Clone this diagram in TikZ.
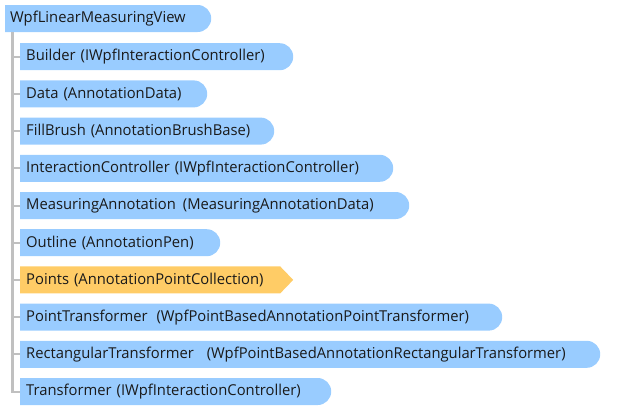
\documentclass[tikz,border=0pt]{standalone}
\usepackage{fontspec}
\setmainfont[FakeStretch=0.985]{Open Sans}
\definecolor{itemblue}{HTML}{99CCFF}
\definecolor{itemorange}{HTML}{FFCC66}
\definecolor{treegray}{HTML}{C0C0C0}
\definecolor{itemtext}{HTML}{1A1A1A}
\tikzset{
  x=1pt, y=-1pt,
  item/.style={anchor=west, minimum height=27pt, inner xsep=6pt, inner ysep=0pt,
    text width=#1-12pt, align=left, font=\fontsize{15}{17}\selectfont, text=itemtext,
    path picture={\fill[itemblue] (path picture bounding box.north west)
      {[rounded corners=13.5pt] -- (path picture bounding box.north east)
      -- (path picture bounding box.south east)} -- (path picture bounding box.south west) -- cycle;}},
  arrowitem/.style={anchor=west, minimum height=27pt, inner xsep=6pt, inner ysep=0pt,
    text width=#1-12pt, align=left, font=\fontsize{15}{17}\selectfont, text=itemtext,
    path picture={\fill[itemorange] (path picture bounding box.north west)
      -- ([xshift=-13pt]path picture bounding box.north east)
      -- (path picture bounding box.east)
      -- ([xshift=-13pt]path picture bounding box.south east)
      -- (path picture bounding box.south west) -- cycle;}},
  treeline/.style={draw=treegray, line width=3pt},
  tick/.style={draw=treegray, line width=2pt}
}
\begin{document}
\begin{tikzpicture}
\useasboundingbox (0,0) rectangle (618,410);
\node[item=208pt, inner xsep=5pt] (root) at (5,18.5) {WpfLinearMeasuringView};
\coordinate (trunk) at (12.5,32);
\node[item=273pt] (c0) at (20,56.7) {Builder (IWpfInteractionController)};
\node[item=187pt] (c1) at (20,93.9) {Data (AnnotationData)};
\node[item=254pt] (c2) at (20,131.1) {FillBrush (AnnotationBrushBase)};
\node[item=373pt] (c3) at (20,168.3) {InteractionController (IWpfInteractionController)};
\node[item=389pt] (c4) at (20,205.5) {MeasuringAnnotation\hspace{2pt} (MeasuringAnnotationData)};
\node[item=200pt] (c5) at (20,242.7) {Outline (AnnotationPen)};
\node[arrowitem=273pt] (c6) at (20,279.9) {Points (AnnotationPointCollection)};
\node[item=482pt] (c7) at (20,317.1) {PointTransformer\hspace{4pt} (WpfPointBasedAnnotationPointTransformer)};
\node[item=580pt] (c8) at (20,354.3) {RectangularTransformer\hspace{8pt} (WpfPointBasedAnnotationRectangularTransformer)};
\node[item=311pt] (c9) at (20,391.5) {Transformer (IWpfInteractionController)};
\coordinate (bottom) at (trunk |- c9.west);
\draw[treeline] (trunk) -- ([yshift=-1pt]bottom);
\foreach \i in {0,...,9} {
  \draw[tick] (trunk |- c\i.west) -- (c\i.west);
}
\end{tikzpicture}
\end{document}
